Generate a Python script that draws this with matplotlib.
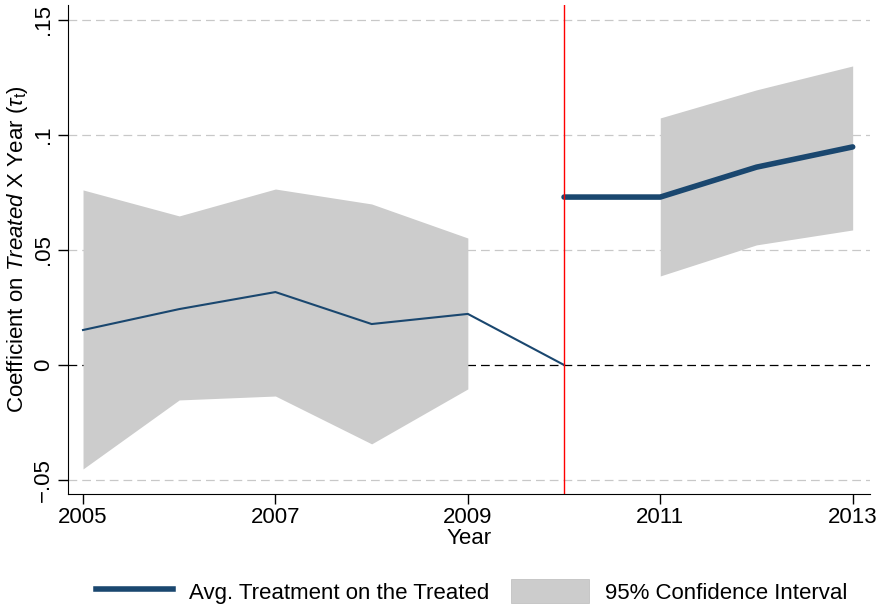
import numpy as np
import matplotlib
import matplotlib.pyplot as plt
from matplotlib.patches import Patch
from matplotlib.lines import Line2D

# pre-period estimates (thin line) and CI
pre_years = [2005, 2006, 2007, 2008, 2009, 2010]
pre_coef = [0.0152, 0.0243, 0.0317, 0.0178, 0.0222, 0.0]
ci_pre_years = [2005, 2006, 2007, 2008, 2009]
ci_pre_lo = [-0.0452, -0.0152, -0.0135, -0.0343, -0.0104]
ci_pre_hi = [0.0761, 0.0648, 0.0765, 0.0700, 0.0552]

# post-period average treatment effect (thick line) and CI
post_years = [2010, 2011, 2012, 2013]
post_coef = [0.0730, 0.0730, 0.0860, 0.0948]
ci_post_years = [2011, 2012, 2013]
ci_post_lo = [0.0387, 0.0522, 0.0587]
ci_post_hi = [0.1074, 0.1196, 0.1300]

yticks = [-0.05, 0, 0.05, 0.1, 0.15]
ytick_labels = ["\u2212.05", "0", ".05", ".1", ".15"]
xticks = [2005, 2007, 2009, 2011, 2013]

navy = "#1a476f"
grey = "#cccccc"
fs = 16

plt.rcParams["font.family"] = ["Liberation Sans", "DejaVu Sans"]
plt.rcParams["mathtext.fontset"] = "custom"
plt.rcParams["mathtext.rm"] = "Liberation Sans"
plt.rcParams["mathtext.it"] = "Liberation Sans:italic"

fig = plt.figure(figsize=(8.81, 6.09), dpi=100)
ax = fig.add_axes([0.0772, 0.1888, 0.9103, 0.803])

for y in yticks:
	if y == 0:
		ax.axhline(y, color="black", lw=0.9, ls=(0, (7, 4)), zorder=1)
	else:
		ax.axhline(y, color="#c8c8c8", lw=0.9, ls=(0, (7, 4)), zorder=0)

ax.fill_between(ci_pre_years, ci_pre_lo, ci_pre_hi, color=grey, lw=0, zorder=2)
ax.fill_between(ci_post_years, ci_post_lo, ci_post_hi, color=grey, lw=0, zorder=2)
ax.plot(pre_years, pre_coef, color=navy, lw=1.5, zorder=3)
ax.plot(post_years, post_coef, color=navy, lw=4, solid_capstyle="round", zorder=3)
ax.axvline(2010, color="#ff0000", lw=1, zorder=4)

ax.set_xlim(2004.844, 2013.18)
ax.set_ylim(-0.0561, 0.1565)
ax.set_xticks(xticks)
ax.set_xticklabels([str(x) for x in xticks])
ax.set_yticks(yticks)
ax.set_yticklabels(ytick_labels, rotation=90, va="center")
ax.tick_params(axis="both", length=7, width=1, labelsize=fs, direction="out")
ax.tick_params(axis="y", pad=3)
ax.tick_params(axis="x", pad=2)
ax.spines["top"].set_visible(False)
ax.spines["right"].set_visible(False)

ax.set_xlabel("Year", fontsize=fs, labelpad=0)
ax.set_ylabel(r"Coefficient on $\it{Treated}$ X Year ($\tau_\mathrm{t}$)", fontsize=fs, labelpad=2)

handles = [Line2D([0], [0], color=navy, lw=4),
	Patch(facecolor=grey, edgecolor="#bbbbbb", lw=0.5)]
fig.legend(handles, ["Avg. Treatment on the Treated", "95% Confidence Interval"],
	loc="center", bbox_to_anchor=(0.535, 0.029), ncol=2, frameon=False,
	fontsize=fs, handlelength=3.5, handleheight=1.3, columnspacing=1.0, handletextpad=0.7)

plt.savefig("out.png", dpi=100)
